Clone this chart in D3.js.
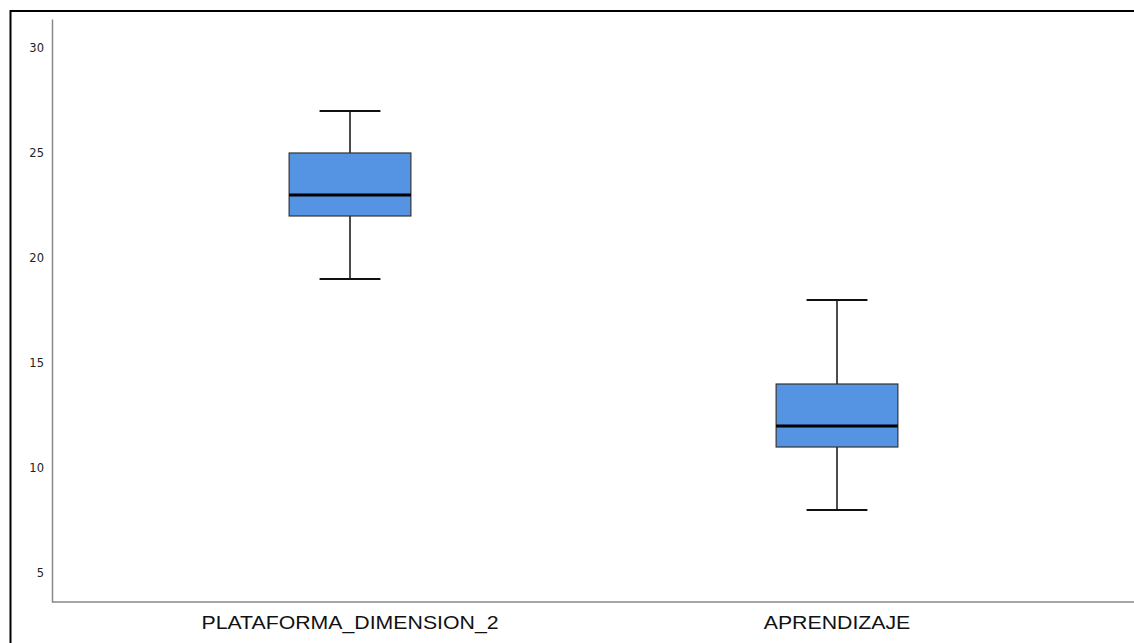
<!DOCTYPE html>
<html><head><meta charset="utf-8">
<script src="https://cdn.jsdelivr.net/npm/d3@7"></script>
<style>body{margin:0;background:#fff}svg{display:block}</style>
</head><body>
<script>
const categories = ["PLATAFORMA_DIMENSION_2", "APRENDIZAJE"];
const whiskerLow = [19, 8];
const q1 = [22, 11];
const median = [23, 12];
const q3 = [25, 14];
const whiskerHigh = [27, 18];
const yTicks = [5, 10, 15, 20, 25, 30];

const W = 1134, H = 643;
const svg = d3.select("body").append("svg").attr("width", W).attr("height", H);

// outer frame
svg.append("rect").attr("x", 10.5).attr("y", 11).attr("width", W + 10).attr("height", H + 10)
  .attr("fill", "none").attr("stroke", "#000").attr("stroke-width", 2);

const y = d3.scaleLinear().domain([3.62, 31.38]).range([602, 19]);
const x = d3.scaleBand().domain(categories).range([106.5, 1080.5]).paddingInner(0.75).paddingOuter(0.375);

// axes
const yAxis = svg.append("g").attr("transform", "translate(52,0)")
  .call(d3.axisLeft(y).tickValues(yTicks).tickSize(0).tickPadding(8));
yAxis.select(".domain").attr("stroke", "#888").attr("stroke-width", 1.5);
yAxis.selectAll("text").attr("font-family", "'DejaVu Sans', sans-serif").attr("font-size", 11.5).attr("fill", "#222");

const xAxis = svg.append("g").attr("transform", "translate(0,602)")
  .call(d3.axisBottom(x).tickSize(0).tickPadding(0));
xAxis.select(".domain").attr("stroke", "#888").attr("stroke-width", 1.5).attr("d", "M52,0H1134");
xAxis.selectAll("text").attr("font-family", "'Liberation Sans', Arial, sans-serif").attr("font-size", 18.5).attr("fill", "#111")
  .attr("dy", null).attr("y", 27)
  .each(function () {
    const len = this.getComputedTextLength();
    d3.select(this).attr("textLength", len * 1.15).attr("lengthAdjust", "spacingAndGlyphs");
  });

const data = categories.map((c, i) => ({c, lo: whiskerLow[i], q1: q1[i], med: median[i], q3: q3[i], hi: whiskerHigh[i]}));
const g = svg.append("g").selectAll("g").data(data).join("g");
const bw = x.bandwidth();
g.append("line").attr("x1", d => x(d.c) + bw / 2).attr("x2", d => x(d.c) + bw / 2)
  .attr("y1", d => y(d.hi)).attr("y2", d => y(d.q3)).attr("stroke", "#111").attr("stroke-width", 1.5);
g.append("line").attr("x1", d => x(d.c) + bw / 2).attr("x2", d => x(d.c) + bw / 2)
  .attr("y1", d => y(d.q1)).attr("y2", d => y(d.lo)).attr("stroke", "#111").attr("stroke-width", 1.5);
g.append("line").attr("x1", d => x(d.c) + bw / 4).attr("x2", d => x(d.c) + 3 * bw / 4)
  .attr("y1", d => y(d.hi)).attr("y2", d => y(d.hi)).attr("stroke", "#111").attr("stroke-width", 2);
g.append("line").attr("x1", d => x(d.c) + bw / 4).attr("x2", d => x(d.c) + 3 * bw / 4)
  .attr("y1", d => y(d.lo)).attr("y2", d => y(d.lo)).attr("stroke", "#111").attr("stroke-width", 2);
g.append("rect").attr("x", d => x(d.c)).attr("width", bw)
  .attr("y", d => y(d.q3)).attr("height", d => y(d.q1) - y(d.q3))
  .attr("fill", "#5593e3").attr("stroke", "#333").attr("stroke-width", 1.2);
g.append("line").attr("x1", d => x(d.c)).attr("x2", d => x(d.c) + bw)
  .attr("y1", d => y(d.med)).attr("y2", d => y(d.med)).attr("stroke", "#000").attr("stroke-width", 3);
</script>
</body></html>
